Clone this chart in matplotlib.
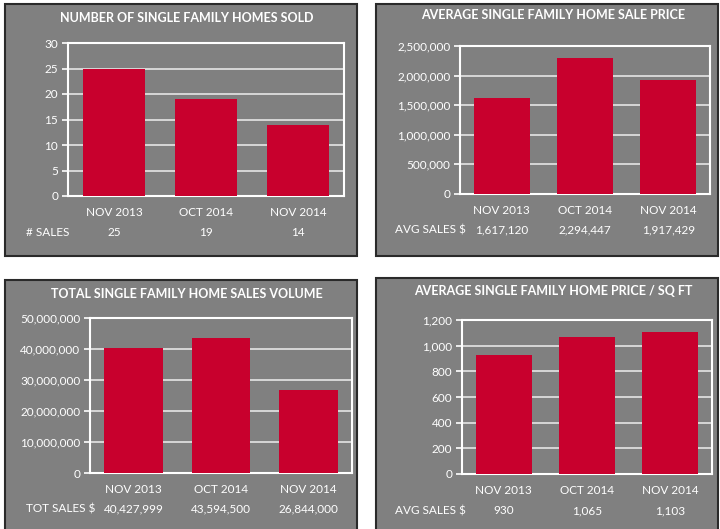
import matplotlib
matplotlib.use('Agg')
import matplotlib.pyplot as plt
from matplotlib.patches import Rectangle
from matplotlib.ticker import FuncFormatter

months = ['NOV 2013', 'OCT 2014', 'NOV 2014']
homes_sold = [25, 19, 14]
avg_price = [1617120, 2294447, 1917429]
total_volume = [40427999, 43594500, 26844000]
price_sqft = [930, 1065, 1103]

W, H = 720, 529
BG = '#808080'
RED = '#C8002D'
plt.rcParams['font.family'] = ['Lato', 'DejaVu Sans']


def px_rect(x0, y0, x1, y1):
    # pixel box (top-left origin) -> figure fraction
    return [x0 / W, 1 - y1 / H, (x1 - x0) / W, (y1 - y0) / H]


def draw_panel(fig, box, axbox, title, title_y, values, ymax, ystep, row_label,
               row_x, row_y, fmt):
    x0, y0, x1, y1 = box
    fig.patches.append(Rectangle((x0 / W, 1 - y1 / H), (x1 - x0) / W, (y1 - y0) / H,
                                 transform=fig.transFigure, facecolor=BG,
                                 edgecolor='#2a2a2a', linewidth=1.5, zorder=-5))
    fig.text(((x0 + x1) / 2 + 6) / W, 1 - title_y / H, title, color='white',
             fontsize=9, fontweight='bold', ha='center', va='center')

    ax = fig.add_axes(px_rect(*axbox))
    ax.patch.set_alpha(0)
    ax.bar(range(len(values)), values, width=0.67, color=RED, zorder=3)
    ax.set_xlim(-0.5, len(values) - 0.5)
    ax.set_ylim(0, ymax)
    ticks = list(range(0, ymax + 1, ystep))
    ax.set_yticks(ticks)
    ax.yaxis.set_major_formatter(FuncFormatter(lambda v, p: f'{int(v):,}'))
    ax.set_xticks(range(len(values)))
    ax.set_xticklabels(months)
    ax.grid(axis='y', color='#e6e6e6', linewidth=1.2, zorder=1)
    for s in ax.spines.values():
        s.set_color('white')
        s.set_linewidth(1.5)
    ax.tick_params(axis='y', colors='white', labelsize=8.5, length=4, width=1.2,
                   pad=3, labelcolor='white')
    ax.tick_params(axis='x', length=0, labelsize=8.5, pad=8, labelcolor='white')

    ax_bottom = axbox[3]
    for i, v in enumerate(values):
        ax.annotate(fmt(v), xy=(i, 0), xycoords=('data', 'axes fraction'),
                    xytext=(0, -(row_y - ax_bottom)), textcoords='offset pixels',
                    ha='center', va='center', color='white', fontsize=8.5)
    fig.text(row_x / W, 1 - row_y / H, row_label, color='white', fontsize=8.5,
             ha='left', va='center')
    return ax


fig = plt.figure(figsize=(W / 100, H / 100), dpi=100)
fig.patch.set_facecolor('white')

draw_panel(fig, (5, 4, 357, 256), (68, 43, 344, 196),
           'NUMBER OF SINGLE FAMILY HOMES SOLD', 18, homes_sold, 30, 5,
           '# SALES', 26, 232, lambda v: f'{v:,}')
draw_panel(fig, (376, 4, 718, 256), (460, 46, 710, 194),
           'AVERAGE SINGLE FAMILY HOME SALE PRICE', 15, avg_price, 2500000, 500000,
           'AVG SALES $', 395, 230, lambda v: f'{v:,}')
draw_panel(fig, (5, 280, 357, 531), (90, 318, 352, 473),
           'TOTAL SINGLE FAMILY HOME SALES VOLUME', 294, total_volume, 50000000, 10000000,
           'TOT SALES $', 26, 509, lambda v: f'{v:,}')
draw_panel(fig, (376, 278, 718, 531), (462, 320, 712, 474),
           'AVERAGE SINGLE FAMILY HOME PRICE / SQ FT', 291, price_sqft, 1200, 200,
           'AVG SALES $', 395, 511, lambda v: f'{v:,}')

fig.savefig('out.png', dpi=100)
